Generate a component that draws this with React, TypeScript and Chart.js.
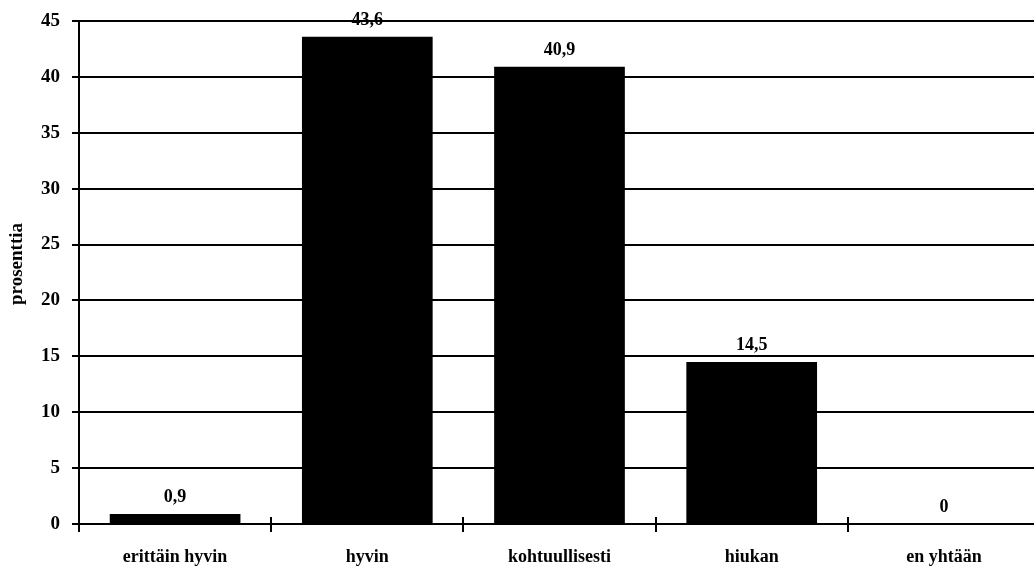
import React, { useEffect, useRef } from "react";
import { Chart, registerables } from "chart.js";

Chart.register(...registerables);

const categories = ["erittäin hyvin", "hyvin", "kohtuullisesti", "hiukan", "en yhtään"];
const values = [0.9, 43.6, 40.9, 14.5, 0];
const valueLabels = ["0,9", "43,6", "40,9", "14,5", "0"];
const yTitle = "prosenttia";

const SERIF = "'Liberation Serif', 'Times New Roman', serif";

const labelPlugin = {
  id: "barLabels",
  afterDatasetsDraw(chart: any) {
    const ctx = chart.ctx;
    const meta = chart.getDatasetMeta(0);
    ctx.save();
    ctx.fillStyle = "#000";
    ctx.font = `bold 18px ${SERIF}`;
    ctx.textAlign = "center";
    ctx.textBaseline = "alphabetic";
    meta.data.forEach((bar: any, i: number) => {
      ctx.fillText(valueLabels[i], bar.x, bar.y - 12);
    });
    // x tick marks extending above the axis
    const xs = chart.scales.x;
    const yb = chart.chartArea.bottom;
    ctx.strokeStyle = "#000";
    ctx.lineWidth = 2;
    for (let i = 1; i < categories.length; i++) {
      const x = Math.round((xs.getPixelForTick(i - 1) + xs.getPixelForTick(i)) / 2);
      ctx.beginPath();
      ctx.moveTo(x, yb - 7);
      ctx.lineTo(x, yb);
      ctx.stroke();
    }
    // y-axis title
    ctx.translate(17, 264);
    ctx.rotate(-Math.PI / 2);
    ctx.font = `bold 19px ${SERIF}`;
    ctx.textBaseline = "middle";
    ctx.fillText(yTitle, 0, 0);
    ctx.restore();
  },
};

export default function App() {
  const ref = useRef<HTMLCanvasElement>(null);
  useEffect(() => {
    document.body.style.margin = "0";
    document.body.style.overflow = "hidden";
    const chart = new Chart(ref.current!, {
      type: "bar",
      data: {
        labels: categories,
        datasets: [
          {
            data: values,
            backgroundColor: "#000",
            borderWidth: 0,
            barPercentage: 0.68,
            categoryPercentage: 1,
          },
        ],
      },
      options: {
        animation: false,
        responsive: false,
        maintainAspectRatio: false,
        layout: { padding: { top: 21, left: 0, right: 0, bottom: 0 } },
        plugins: { legend: { display: false }, tooltip: { enabled: false } },
        scales: {
          x: {
            grid: {
              display: true,
              drawOnChartArea: false,
              drawTicks: true,
              tickLength: 8,
              color: "#000",
              lineWidth: 2,
              offset: true,
            },
            border: { display: true, color: "#000", width: 2 },
            ticks: {
              color: "#000",
              font: { family: SERIF, size: 18, weight: "bold" },
              padding: 15,
              maxRotation: 0,
            },
            afterFit: (s: any) => {
              s.height = 44;
              s.paddingLeft = 0;
              s.paddingRight = 0;
            },
          },
          y: {
            min: 0,
            max: 45,
            ticks: {
              stepSize: 5,
              color: "#000",
              font: { family: SERIF, size: 19, weight: "bold" },
              padding: 12,
            },
            grid: {
              color: "#000",
              lineWidth: 2,
              tickLength: 7,
            },
            border: { display: true, color: "#000", width: 2 },
            afterFit: (s: any) => {
              s.width = 79;
              s.paddingTop = 0;
              s.paddingBottom = 0;
            },
          },
        },
      },
      plugins: [labelPlugin],
    });
    return () => chart.destroy();
  }, []);
  return (
    <div style={{ position: "fixed", left: 0, top: 0, width: 1034, height: 568, overflow: "hidden", background: "#fff" }}>
      <canvas ref={ref} width={1040} height={568} style={{ display: "block" }} />
    </div>
  );
}
